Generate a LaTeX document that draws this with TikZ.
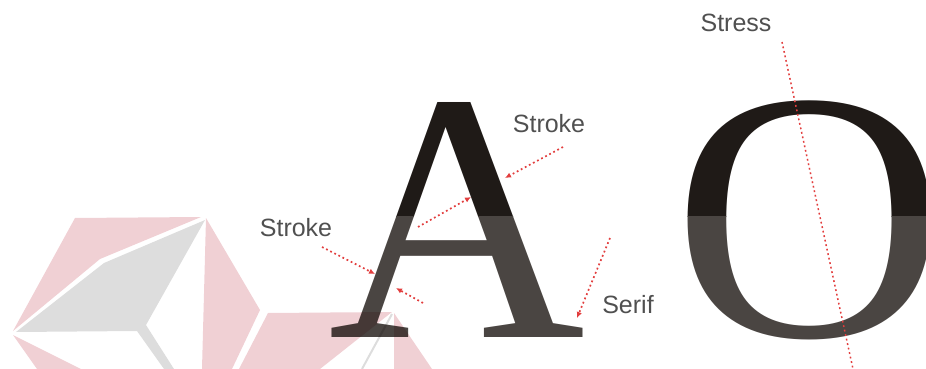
\documentclass[tikz,border=0pt]{standalone}
\usepackage{fontspec}
\setmainfont{Liberation Serif}
\newfontfamily\labelfont{Liberation Sans}
\usetikzlibrary{arrows.meta}
\definecolor{inkdark}{HTML}{1F1A17}
\definecolor{inklight}{HTML}{4A4542}
\definecolor{wmpink}{HTML}{F0D0D4}
\definecolor{wmgray}{HTML}{DDDDDD}
\definecolor{labelgray}{HTML}{505050}
\definecolor{arrowred}{HTML}{E23E3E}
\tikzset{
  lbl/.style={font=\labelfont\fontsize{25}{25}\selectfont, text=labelgray, inner sep=0pt},
  glyph/.style={inner sep=0pt, outer sep=0pt, font=\fontsize{356}{356}\selectfont, anchor=base west},
  pointer/.style={arrowred, line width=1.7pt, dash pattern=on 1.8pt off 2.8pt, -{Latex[length=6pt,width=5.5pt]}},
  stressline/.style={arrowred, line width=1.5pt, dash pattern=on 1.8pt off 2.8pt},
  wmp/.style={fill=wmpink, draw=none},
  wmg/.style={fill=wmgray, draw=none},
}
\begin{document}
\begin{tikzpicture}[x=1pt,y=-1pt]
\useasboundingbox (0,0) rectangle (926,369);
% letters, upper part dark
\begin{scope}
  \clip (0,0) rectangle (926,216);
  \node[glyph, text=inkdark] (Atop) at (328,337) {A};
  \node[glyph, text=inkdark, xscale=1.065] (Otop) at (672,336) {O};
\end{scope}
% letters, lower part lighter
\begin{scope}
  \clip (0,216) rectangle (926,369);
  \node[glyph, text=inklight] (Abot) at (328,337) {A};
  \node[glyph, text=inklight, xscale=1.065] (Obot) at (672,336) {O};
\end{scope}
% watermark
\begin{scope}[blend mode=multiply]
  \fill[wmp] (75,218) -- (201,217) -- (100,259) -- (13,331) -- cycle;
  \fill[wmg] (205,220) -- (104,263) -- (16,332) -- (137,331) -- (164,369) -- (174,369) -- (146,325) -- cycle;
  \fill[wmp] (13,335) -- (81,369) -- (37,369) -- cycle;
  \fill[wmp] (206,218) -- (260,310) -- (232,369) -- (202,369) -- cycle;
  \fill[wmp] (268,313) -- (392,312) -- (320,369) -- (239,369) -- cycle;
  \fill[wmp] (394,313) -- (432,369) -- (394,369) -- cycle;
  \draw[wmgray, line width=2pt] (392,314) -- (362,369);
\end{scope}
% labels
\node[lbl] (strokeTop) at (549,124) {Stroke};
\node[lbl] (strokeLeft) at (296,228) {Stroke};
\node[lbl] (serif) at (628,305) {Serif};
\node[lbl] (stress) at (736,23) {Stress};
% pointer ends
\coordinate (p1s) at (563,147); \coordinate (p1e) at (505,178);
\coordinate (p2s) at (418,227); \coordinate (p2e) at (471,197);
\coordinate (p3s) at (322,247); \coordinate (p3e) at (375,274);
\coordinate (p4s) at (423,303); \coordinate (p4e) at (396,288);
\coordinate (p5s) at (610,238); \coordinate (p5e) at (577,318);
\coordinate (s1) at (782,42); \coordinate (s2) at (853,369);
\draw[pointer] (p1s) -- (p1e);
\draw[pointer] (p2s) -- (p2e);
\draw[pointer] (p3s) -- (p3e);
\draw[pointer] (p4s) -- (p4e);
\draw[pointer] (p5s) -- (p5e);
\draw[stressline] (s1) -- (s2);
\end{tikzpicture}
\end{document}
